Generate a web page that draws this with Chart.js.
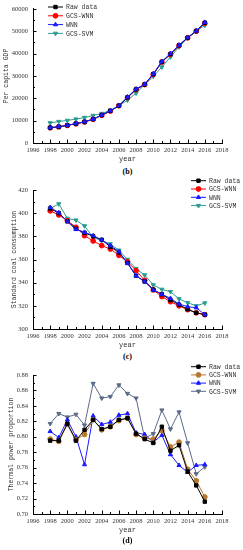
<!DOCTYPE html>
<html>
<head>
<meta charset="utf-8">
<script src="https://cdn.jsdelivr.net/npm/chart.js@4.4.1/dist/chart.umd.min.js"></script>
<style>
  body { margin: 0; background: #fff; width: 243px; height: 550px; position: relative; overflow: hidden; }
  canvas { position: absolute; left: 0; }
  .cap { position: absolute; left: 0; width: 255px; text-align: center; font: bold 8px "Liberation Serif", serif; color: #000; }
</style>
</head>
<body>
<canvas id="gdpChart" width="243" height="166" style="top:0px"></canvas>
<div class="cap" style="top:167px">(b)</div>
<canvas id="coalChart" width="243" height="177" style="top:175px"></canvas>
<div class="cap" style="top:352px">(c)</div>
<canvas id="thermalChart" width="243" height="177" style="top:360px"></canvas>
<div class="cap" style="top:536px">(d)</div>

<script>
// 공통 x축 (연도)
const years = [1998, 1999, 2000, 2001, 2002, 2003, 2004, 2005, 2006, 2007, 2008, 2009, 2010, 2011, 2012, 2013, 2014, 2015, 2016];
const seriesNames = ["Raw data", "GCS-WNN", "WNN", "GCS-SVM"];

// (b) Per capita GDP
const gdpRaw    = [6850, 7250, 7900, 8650, 9450, 10650, 12450, 14350, 16650, 20400, 24000, 26200, 30800, 36300, 39800, 43700, 47100, 50100, 53800];
const gdpGcsWnn = [6800, 7200, 7850, 8600, 9400, 10600, 12400, 14300, 16700, 20300, 23900, 26150, 30700, 36200, 39700, 43600, 47050, 50050, 53600];
const gdpWnn    = [6900, 7300, 7950, 8700, 9500, 10700, 12550, 14400, 16700, 20600, 24200, 26300, 31000, 36500, 40000, 43800, 47200, 50200, 54000];
const gdpSvm    = [9000, 9600, 10100, 10700, 11400, 12300, 13200, 14600, 16700, 19200, 22300, 26100, 29800, 34000, 38500, 43000, 47000, 50000, 52600];

// (c) Standard coal consumption
const coalRaw    = [404, 400, 393, 386.5, 383, 380, 377, 371, 366, 357, 346, 341, 334, 330, 325, 321, 317, 314, 312.4];
const coalGcsWnn = [402, 398.5, 393.5, 387.8, 380.6, 376, 372, 369, 363.6, 358, 350.4, 342, 333.7, 328, 323.6, 320, 316.7, 314, 312.4];
const coalWnn    = [405, 400.5, 392.7, 386, 383.5, 380.6, 377, 372, 366.8, 356.7, 345.8, 340.9, 333.7, 330, 326.5, 321.6, 319.3, 318.4, 312.4];
const coalSvm    = [404, 408, 395.5, 394, 389, 379, 376.3, 373.4, 368, 360, 352, 346.6, 338, 334.2, 332.2, 326, 322.7, 320, 322.4];

// (d) Thermal power proportion
const thermalRaw    = [0.795, 0.795, 0.817, 0.795, 0.809, 0.822, 0.810, 0.813, 0.822, 0.824, 0.804, 0.797, 0.792, 0.813, 0.782, 0.789, 0.755, 0.737, 0.716];
const thermalGcsWnn = [0.797, 0.794, 0.816, 0.796, 0.803, 0.822, 0.809, 0.813, 0.821, 0.824, 0.803, 0.798, 0.797, 0.808, 0.787, 0.793, 0.758, 0.743, 0.722];
const thermalWnn    = [0.807, 0.799, 0.822, 0.800, 0.764, 0.827, 0.816, 0.819, 0.828, 0.830, 0.805, 0.803, 0.793, 0.802, 0.777, 0.763, 0.754, 0.763, 0.764];
const thermalSvm    = [0.817, 0.830, 0.8255, 0.829, 0.815, 0.869, 0.850, 0.852, 0.867, 0.856, 0.850, 0.798, 0.804, 0.8345, 0.810, 0.832, 0.792, 0.752, 0.761];

const SERIF = '"Liberation Serif", serif';
const MONO = '"Liberation Mono", monospace';

// 안쪽 눈금 (주/보조) 그리기
const innerTicks = {
  id: "innerTicks",
  afterDraw(chart) {
    const { ctx, chartArea, scales } = chart;
    ctx.save();
    ctx.strokeStyle = "#000";
    ctx.lineWidth = 1;
    const xs = scales.x, ys = scales.y;
    const xt = xs.ticks.map((t) => t.value);
    const yt = ys.ticks.map((t) => t.value);
    ctx.beginPath();
    xt.forEach((v, i) => {
      const px = Math.round(xs.getPixelForValue(v)) + 0.5;
      ctx.moveTo(px, chartArea.bottom);
      ctx.lineTo(px, chartArea.bottom - 3.5);
      if (i < xt.length - 1) {
        const mx = Math.round(xs.getPixelForValue((v + xt[i + 1]) / 2)) + 0.5;
        ctx.moveTo(mx, chartArea.bottom);
        ctx.lineTo(mx, chartArea.bottom - 2);
      }
    });
    yt.forEach((v, i) => {
      const py = Math.round(ys.getPixelForValue(v)) + 0.5;
      ctx.moveTo(chartArea.left, py);
      ctx.lineTo(chartArea.left + 3.5, py);
      if (i < yt.length - 1) {
        const my = Math.round(ys.getPixelForValue((v + yt[i + 1]) / 2)) + 0.5;
        ctx.moveTo(chartArea.left, my);
        ctx.lineTo(chartArea.left + 2, my);
      }
    });
    ctx.stroke();
    ctx.restore();
  },
};

// 범례 (플롯 위에 직접 그리기)
const boxLegend = {
  id: "boxLegend",
  afterDraw(chart, args, opts) {
    const { ctx } = chart;
    ctx.save();
    ctx.font = `6.5px ${MONO}`;
    ctx.textBaseline = "middle";
    chart.data.datasets.forEach((ds, i) => {
      const y = opts.y + i * opts.gap;
      ctx.strokeStyle = ds.borderColor;
      ctx.lineWidth = 1;
      ctx.beginPath();
      ctx.moveTo(opts.x, y);
      ctx.lineTo(opts.x + 15, y);
      ctx.stroke();
      ctx.fillStyle = ds.pointBackgroundColor;
      ctx.strokeStyle = ds.pointBackgroundColor;
      Chart.helpers.drawPoint(ctx, { pointStyle: ds.pointStyle, radius: 2.4, rotation: ds.pointRotation || 0, borderWidth: 1 }, opts.x + 7.5, y);
      ctx.fillStyle = "#333";
      ctx.fillText(ds.label, opts.x + 18, y + 0.5);
    });
    ctx.restore();
  },
};

function makeDataset(i, values, color, style, rotation, order) {
  return {
    label: seriesNames[i],
    data: years.map((x, k) => ({ x, y: values[k] })),
    borderColor: color,
    borderWidth: 1,
    pointBackgroundColor: color,
    pointBorderColor: color,
    pointStyle: style,
    pointRotation: rotation,
    pointRadius: 2.4,
    order,
  };
}

function buildChart(id, opts) {
  const ctx = document.getElementById(id).getContext("2d");
  return new Chart(ctx, {
    type: "line",
    data: { datasets: opts.datasets },
    options: {
      responsive: false,
      animation: false,
      layout: { padding: { top: opts.padTop, left: opts.padLeft, right: 21, bottom: 0 } },
      plugins: {
        legend: { display: false },
        tooltip: { enabled: false },
        boxLegend: opts.legend,
      },
      scales: {
        x: {
          type: "linear",
          min: 1996,
          max: 2018,
          grid: { display: false, drawTicks: false },
          border: { display: true, color: "#000", width: 1 },
          ticks: {
            stepSize: 2, padding: 3, autoSkip: false, maxRotation: 0, minRotation: 0,
            color: "#333", font: { family: SERIF, size: 6.5 }, callback: (v) => String(v),
          },
          title: { display: true, text: "year", color: "#333", font: { family: MONO, size: 7 }, padding: { top: 0, bottom: 3 } },
          afterFit: (s) => { s.height = 23; },
        },
        y: {
          min: opts.yMin,
          max: opts.yMax,
          grid: { display: false, drawTicks: false },
          border: { display: true, color: "#000", width: 1 },
          ticks: { stepSize: opts.yStep, padding: 5, color: "#333", font: { family: SERIF, size: 6.5 }, callback: opts.yFormat },
          title: { display: true, text: opts.yTitle, color: "#333", font: { family: MONO, size: 6.5 }, padding: { top: 0, bottom: 0 } },
          afterFit: (s) => { s.width = opts.yWidth; },
        },
      },
    },
    plugins: [innerTicks, boxLegend],
  });
}

buildChart("gdpChart", {
  padTop: 4, padLeft: 2, yWidth: 31,
  yMin: 0, yMax: 60000, yStep: 10000, yTitle: "Per capita GDP",
  yFormat: (v) => String(v),
  legend: { x: 48, y: 7, gap: 8.8 },
  datasets: [
    makeDataset(0, gdpRaw, "#000000", "rect", 0, 1),
    makeDataset(1, gdpGcsWnn, "#ff0000", "circle", 0, 2),
    makeDataset(2, gdpWnn, "#1a1aff", "triangle", 0, 0),
    makeDataset(3, gdpSvm, "#2a9d8f", "triangle", 180, 3),
  ],
});

buildChart("coalChart", {
  padTop: 15, padLeft: 10, yWidth: 23,
  yMin: 300, yMax: 420, yStep: 20, yTitle: "Standard coal consumption",
  yFormat: (v) => String(v),
  legend: { x: 191, y: 5.7, gap: 8.3 },
  datasets: [
    makeDataset(0, coalRaw, "#000000", "rect", 0, 1),
    makeDataset(1, coalGcsWnn, "#ff0000", "circle", 0, 2),
    makeDataset(2, coalWnn, "#1a1aff", "triangle", 0, 0),
    makeDataset(3, coalSvm, "#2a9d8f", "triangle", 180, 3),
  ],
});

buildChart("thermalChart", {
  padTop: 15, padLeft: 7, yWidth: 26,
  yMin: 0.70, yMax: 0.88, yStep: 0.02, yTitle: "Thermal power proportion",
  yFormat: (v) => Number(v).toFixed(2),
  legend: { x: 191, y: 6.7, gap: 8.2 },
  datasets: [
    makeDataset(0, thermalRaw, "#000000", "rect", 0, 0),
    makeDataset(1, thermalGcsWnn, "#b5782e", "circle", 0, 1),
    makeDataset(2, thermalWnn, "#1a1aff", "triangle", 0, 2),
    makeDataset(3, thermalSvm, "#5b6b88", "triangle", 180, 3),
  ],
});
</script>
</body>
</html>
